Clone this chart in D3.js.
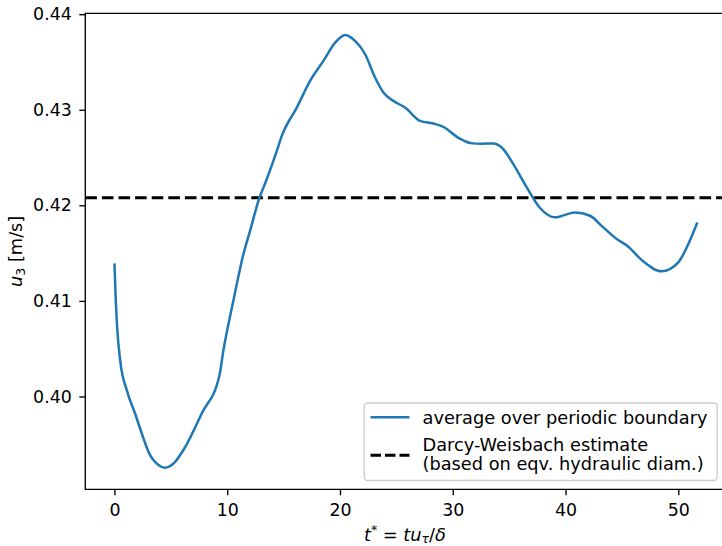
<!DOCTYPE html>
<html>
<head>
<meta charset="utf-8">
<script src="https://cdn.jsdelivr.net/npm/d3@7"></script>
<style>
html,body{margin:0;padding:0;background:#fff;}
svg{display:block;font-family:"DejaVu Sans",sans-serif;}
</style>
</head>
<body>
<svg id="chart" width="722" height="546"></svg>
<script>
// ---- data ----
const tStar = [0, 0.12, 0.24, 0.51, 1.10, 1.84, 2.43, 3.17, 3.76, 4.49, 5.23, 6.27, 7.75, 9.31, 9.66, 10.55, 11.44, 12.03, 12.77, 13.51, 14.4, 14.84, 16.17, 17.35, 18.53, 19.57, 20.45, 21.34, 22.23, 23.11, 23.85, 24.73, 25.77, 27.1, 28.28, 29.17, 30.55, 31.6, 32.5, 33.6, 34.34, 35.37, 36.56, 37.74, 39.07, 40.84, 42.17, 43.35, 44.54, 45.57, 46.75, 48.53, 50.0, 50.89, 51.69];
const uMean = [0.41393, 0.41003, 0.40724, 0.40376, 0.40063, 0.39819, 0.3961, 0.39383, 0.39297, 0.39255, 0.39297, 0.3947, 0.39825, 0.40219, 0.40481, 0.41003, 0.41491, 0.41735, 0.42048, 0.42275, 0.4257, 0.42727, 0.43023, 0.43302, 0.43511, 0.43702, 0.43783, 0.4372, 0.43581, 0.43337, 0.4318, 0.43093, 0.43023, 0.42884, 0.42856, 0.42821, 0.42703, 0.42651, 0.42645, 0.42647, 0.42605, 0.42432, 0.42187, 0.41972, 0.41874, 0.41926, 0.41891, 0.41769, 0.41648, 0.41567, 0.41428, 0.41309, 0.41403, 0.41596, 0.41821];
const darcyWeisbach = 0.4208;
const xTicks = [0, 10, 20, 30, 40, 50];
const yTicks = [0.40, 0.41, 0.42, 0.43, 0.44];
const legendLabels = ["average over periodic boundary", "Darcy-Weisbach estimate", "(based on eqv. hydraulic diam.)"];

// ---- layout ----
const L = 85.3, T = 13.3, B = 489.3, R = 726.5;
const blue = "#1f77b4";
const fs = 17.4;
const fsLeg = 17.75;

const xMin = d3.min(tStar), xMax = d3.max(tStar);
const yMin = d3.min(uMean), yMax = d3.max(uMean);
const xm = (xMax - xMin) * 0.05, ym = (yMax - yMin) * 0.05;
const x = d3.scaleLinear().domain([xMin - xm, xMax + xm]).range([L, R]);
const y = d3.scaleLinear().domain([yMin - ym, yMax + ym]).range([B, T]);

const svg = d3.select("#chart");
svg.append("defs").append("clipPath").attr("id", "clip")
  .append("rect").attr("x", L).attr("y", T).attr("width", R - L).attr("height", B - T);

const plot = svg.append("g").attr("clip-path", "url(#clip)");

// dashed reference line
plot.append("line")
  .attr("x1", L).attr("x2", R)
  .attr("y1", y(darcyWeisbach)).attr("y2", y(darcyWeisbach))
  .attr("stroke", "#000").attr("stroke-width", 3.1)
  .attr("stroke-dasharray", "11.6,5");

// data line
const line = d3.line().x((d, i) => x(tStar[i])).y(d => y(d)).curve(d3.curveMonotoneX);
plot.append("path").datum(uMean)
  .attr("d", line)
  .attr("fill", "none").attr("stroke", blue).attr("stroke-width", 2.5)
  .attr("stroke-linejoin", "round").attr("stroke-linecap", "butt");

// axes
const xAxis = d3.axisBottom(x).tickValues(xTicks).tickFormat(d3.format("d")).tickSizeOuter(0).tickSize(6).tickPadding(8);
const yAxis = d3.axisLeft(y).tickValues(yTicks).tickFormat(d3.format(".2f")).tickSizeOuter(0).tickSize(6).tickPadding(7.5);

const gx = svg.append("g").attr("transform", `translate(0,${B})`).call(xAxis);
const gy = svg.append("g").attr("transform", `translate(${L},0)`).call(yAxis);
[gx, gy].forEach(g => {
  g.select(".domain").remove();
  g.selectAll(".tick line").attr("stroke", "#000").attr("stroke-width", 1.35);
  g.selectAll(".tick text").attr("fill", "#000").attr("font-size", fs).attr("font-family", "DejaVu Sans");
});
gx.selectAll(".tick text").attr("dy", "0.71em");

// spines
const sp = svg.append("g").attr("stroke", "#000").attr("stroke-width", 1.35).attr("fill", "none");
sp.append("line").attr("x1", L).attr("x2", L).attr("y1", T - 0.65).attr("y2", B + 0.65);
sp.append("line").attr("x1", L).attr("x2", R).attr("y1", B).attr("y2", B);
sp.append("line").attr("x1", L).attr("x2", R).attr("y1", T).attr("y2", T);
sp.append("line").attr("x1", R).attr("x2", R).attr("y1", T).attr("y2", B);

// x label: t^* = t u_tau / delta
const xl = svg.append("text").attr("x", (L + R) / 2 - 1).attr("y", 540.5)
  .attr("text-anchor", "middle").attr("font-size", fsLeg).attr("fill", "#000");
xl.append("tspan").attr("font-style", "italic").text("t");
xl.append("tspan").attr("font-size", fsLeg * 0.7).attr("dy", -7).text("*");
xl.append("tspan").attr("dy", 7).text(" = ");
xl.append("tspan").attr("font-style", "italic").text("tu");
xl.append("tspan").attr("font-style", "italic").attr("font-size", fsLeg * 0.7).attr("dy", 2.5).text("τ");
xl.append("tspan").attr("dy", -2.5).text("/");
xl.append("tspan").attr("font-style", "italic").text("δ");

// y label: u_3 [m/s]
const yl = svg.append("text")
  .attr("transform", `translate(21.5,${(T + B) / 2}) rotate(-90)`)
  .attr("text-anchor", "middle").attr("font-size", fsLeg).attr("fill", "#000");
yl.append("tspan").attr("font-style", "italic").text("u");
yl.append("tspan").attr("font-size", fsLeg * 0.7).attr("dy", 3.5).text("3");
yl.append("tspan").attr("dy", -3.5).text(" [m/s]");

// legend
const lg = svg.append("g");
lg.append("rect").attr("x", 364.2).attr("y", 403).attr("width", 353).attr("height", 77.5)
  .attr("rx", 3.5).attr("ry", 3.5)
  .attr("fill", "#fff").attr("fill-opacity", 0.8)
  .attr("stroke", "#cccccc").attr("stroke-width", 1.35);
lg.append("line").attr("x1", 370.5).attr("x2", 409.5).attr("y1", 417.3).attr("y2", 417.3)
  .attr("stroke", blue).attr("stroke-width", 2.5);
lg.append("line").attr("x1", 370.5).attr("x2", 409.5).attr("y1", 455.3).attr("y2", 455.3)
  .attr("stroke", "#000").attr("stroke-width", 3.1).attr("stroke-dasharray", "10.5,4");
const lt = (s, yy) => lg.append("text").attr("x", 422.5).attr("y", yy)
  .attr("font-size", fsLeg).attr("fill", "#000").text(s);
lt(legendLabels[0], 423.5);
lt(legendLabels[1], 451.3);
lt(legendLabels[2], 470);
</script>
</body>
</html>
